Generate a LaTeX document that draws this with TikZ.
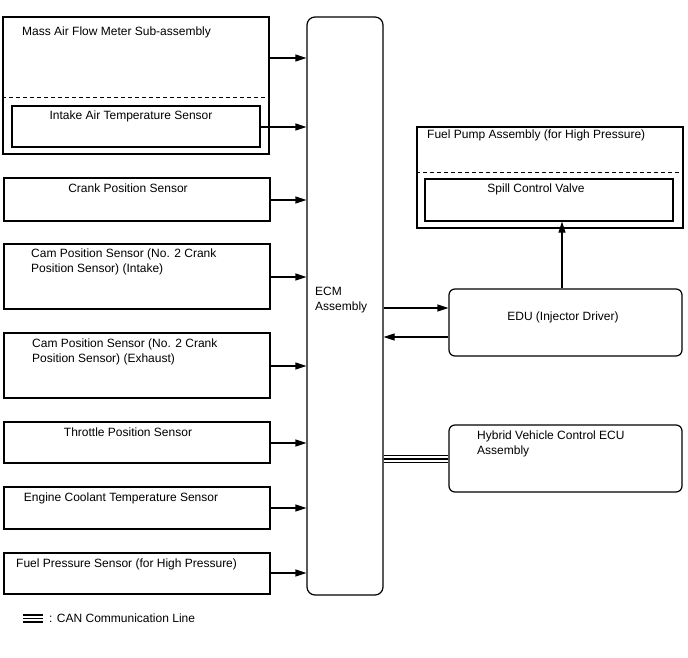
\documentclass[tikz,border=0pt]{standalone}
\usepackage{fontspec}
\setmainfont{Liberation Sans}
\usetikzlibrary{arrows.meta}
\begin{document}
\begin{tikzpicture}[x=1pt,y=-1pt,
  box/.style={draw,line width=1.2pt,inner sep=0pt,rectangle},
  rbox/.style={box,rounded corners=6pt},
  lbl/.style={inner sep=0pt,anchor=base west,font=\fontsize{12}{14.5}\selectfont,align=left},
  clbl/.style={inner sep=0pt,anchor=base,font=\fontsize{12}{14.5}\selectfont},
  sig/.style={line width=1.2pt,-{Triangle[length=11pt,width=7pt]}},
  canl/.style={line width=1.2pt},
  sep/.style={line width=1pt,dash pattern=on 4pt off 3pt}]
\useasboundingbox (0,0) rectangle (688,658);
% left boxes
\node[box,minimum width=266pt,minimum height=137pt] (maf) at (136,85.5) {};
\node[box,minimum width=248pt,minimum height=41pt] (iat) at (136,126.5) {};
\node[box,minimum width=266pt,minimum height=43pt] (crank) at (137,199.5) {};
\node[box,minimum width=266pt,minimum height=65pt] (camI) at (137,276.5) {};
\node[box,minimum width=266pt,minimum height=65pt] (camE) at (137,365.5) {};
\node[box,minimum width=266pt,minimum height=41pt] (tps) at (137,442.5) {};
\node[box,minimum width=266pt,minimum height=42pt] (ect) at (137,508) {};
\node[box,minimum width=266pt,minimum height=41pt] (fps) at (137,573.5) {};
% ECM
\node[box,rounded corners=8pt,minimum width=76pt,minimum height=578pt] (ecm) at (345,306) {};
% right boxes
\node[box,minimum width=266pt,minimum height=101pt] (fpa) at (550,177.5) {};
\node[box,minimum width=248pt,minimum height=42pt] (scv) at (549,200) {};
\node[rbox,minimum width=233pt,minimum height=67pt] (edu) at (565.5,322.5) {};
\node[rbox,minimum width=233pt,minimum height=67pt] (hv) at (565.5,458.5) {};
% dashed separators
\draw[sep] (maf.west |- 0,98) -- (maf.east |- 0,98);
\draw[sep] (fpa.west |- 0,172) -- (fpa.east |- 0,172);
% labels
\node[lbl] (tmaf) at (22,36) {Mass Air Flow Meter Sub-assembly};
\node[clbl] (tiat) at (131,120) {Intake Air Temperature Sensor};
\node[clbl] (tcrank) at (128,193) {Crank Position Sensor};
\node[lbl] (tcamI) at (31,272) {Cam Position Sensor (No. 2 Crank\\Position Sensor) (Intake)};
\node[lbl] (tcamE) at (32,362) {Cam Position Sensor (No. 2 Crank\\Position Sensor) (Exhaust)};
\node[clbl] (ttps) at (128,436) {Throttle Position Sensor};
\node[clbl] (tect) at (121,501) {Engine Coolant Temperature Sensor};
\node[lbl] (tfps) at (16,567) {Fuel Pressure Sensor (for High Pressure)};
\node[lbl] (tecm) at (315,310) {ECM\\Assembly};
\node[lbl] (tfpa) at (427,139) {Fuel Pump Assembly (for High Pressure)};
\node[clbl] (tscv) at (536,193) {Spill Control Valve};
\node[clbl] (tedu) at (563,320) {EDU (Injector Driver)};
\node[lbl] (thv) at (477,454) {Hybrid Vehicle Control ECU\\Assembly};
% signal arrows
\draw[sig] (maf.east |- 0,58) -- (ecm.west |- 0,58);
\draw[sig] (iat.east |- 0,127) -- (ecm.west |- 0,127);
\draw[sig] (crank.east |- 0,200) -- (ecm.west |- 0,200);
\draw[sig] (camI.east |- 0,277) -- (ecm.west |- 0,277);
\draw[sig] (camE.east |- 0,366) -- (ecm.west |- 0,366);
\draw[sig] (tps.east |- 0,443) -- (ecm.west |- 0,443);
\draw[sig] (ect.east |- 0,508) -- (ecm.west |- 0,508);
\draw[sig] (fps.east |- 0,573) -- (ecm.west |- 0,573);
\draw[sig] (ecm.east |- 0,308) -- (edu.west |- 0,308);
\draw[sig] (edu.west |- 0,337) -- (ecm.east |- 0,337);
\draw[sig] (edu.north -| 562,0) -- (scv.south -| 562,0);
% CAN lines
\draw[canl] (ecm.east |- 0,455.5) -- (hv.west |- 0,455.5);
\draw[canl] (ecm.east |- 0,459) -- (hv.west |- 0,459);
\draw[canl] (ecm.east |- 0,462.5) -- (hv.west |- 0,462.5);
% legend
\coordinate (lg) at (23,618.5);
\draw[canl] ([yshift=-3.5pt]lg) -- ++(20,0);
\draw[canl] (lg) -- ++(20,0);
\draw[canl] ([yshift=3.5pt]lg) -- ++(20,0);
\node[lbl] (tlg) at (49,622) {: CAN Communication Line};
\end{tikzpicture}
\end{document}
